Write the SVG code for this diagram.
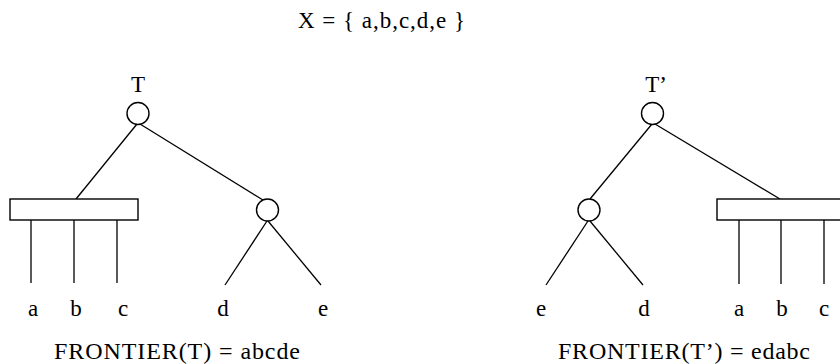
<svg xmlns="http://www.w3.org/2000/svg" width="840" height="364" viewBox="0 0 840 364">
<style>
  .ln { stroke: #000; stroke-width: 1.3; fill: none; }
  .nd { stroke: #000; stroke-width: 1.4; fill: #fff; }
  text { font-family: "Liberation Serif", "Times New Roman", serif; fill: #000; }
  .lbl { font-size: 23px; text-anchor: middle; }
  .ttl { font-size: 23px; }
  .fr { font-size: 24px; }
</style>
<rect width="840" height="364" fill="#fff"/>
<text class="ttl" x="298" y="28" textLength="167" lengthAdjust="spacing">X = {  a,b,c,d,e }</text>

<g id="connectors">
  <!-- left tree T -->
  <line class="ln" x1="137" y1="124" x2="76" y2="199"/>
  <line class="ln" x1="140" y1="124" x2="263" y2="200"/>
  <line class="ln" x1="31" y1="220" x2="31" y2="283"/>
  <line class="ln" x1="74" y1="220" x2="74" y2="283"/>
  <line class="ln" x1="117" y1="220" x2="117" y2="283"/>
  <line class="ln" x1="267" y1="221" x2="225" y2="285"/>
  <line class="ln" x1="268" y1="221" x2="321" y2="285"/>
  <!-- right tree T' -->
  <line class="ln" x1="652" y1="124" x2="590" y2="199"/>
  <line class="ln" x1="655" y1="124" x2="780" y2="199"/>
  <line class="ln" x1="739" y1="220" x2="739" y2="284"/>
  <line class="ln" x1="781" y1="220" x2="781" y2="284"/>
  <line class="ln" x1="824" y1="220" x2="824" y2="284"/>
  <line class="ln" x1="588" y1="221" x2="546" y2="285"/>
  <line class="ln" x1="590" y1="221" x2="643" y2="285"/>
</g>

<g id="T-root">
  <circle class="nd" cx="138" cy="113.5" r="11"/>
  <text class="lbl" x="138" y="92">T</text>
</g>
<g id="T-box">
  <rect class="nd" x="10" y="199" width="128" height="21"/>
</g>
<g id="T-inner">
  <circle class="nd" cx="267.5" cy="210" r="11"/>
</g>
<g id="T-leaves">
  <text class="lbl" x="33" y="316">a</text>
  <text class="lbl" x="76" y="316">b</text>
  <text class="lbl" x="123" y="316">c</text>
  <text class="lbl" x="223" y="316">d</text>
  <text class="lbl" x="323" y="316">e</text>
</g>
<text class="fr" x="54" y="359" textLength="246" lengthAdjust="spacing">FRONTIER(T) = abcde</text>

<g id="T2-root">
  <circle class="nd" cx="652.5" cy="113.5" r="11"/>
  <text class="lbl" x="656" y="92">T’</text>
</g>
<g id="T2-inner">
  <circle class="nd" cx="589" cy="210" r="11"/>
</g>
<g id="T2-box">
  <rect class="nd" x="717" y="199" width="140" height="21"/>
</g>
<g id="T2-leaves">
  <text class="lbl" x="541" y="316">e</text>
  <text class="lbl" x="644" y="316">d</text>
  <text class="lbl" x="739" y="316">a</text>
  <text class="lbl" x="782" y="316">b</text>
  <text class="lbl" x="824" y="316">c</text>
</g>
<text class="fr" x="558" y="359" textLength="252" lengthAdjust="spacing">FRONTIER(T’) = edabc</text>
</svg>
